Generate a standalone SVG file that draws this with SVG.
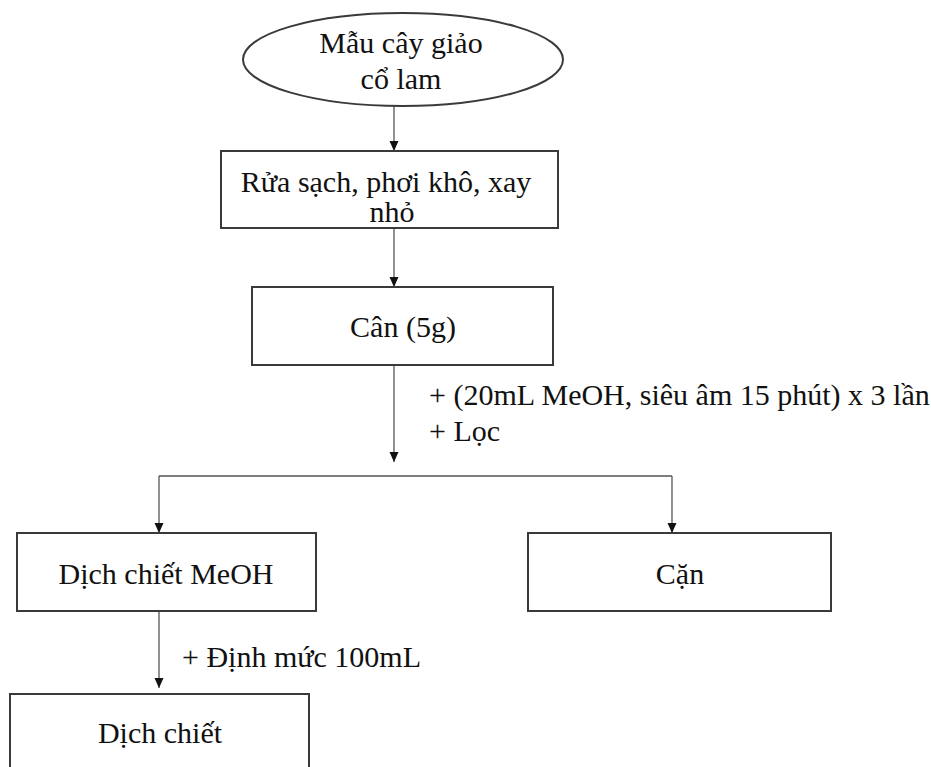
<svg xmlns="http://www.w3.org/2000/svg" width="931" height="767" viewBox="0 0 931 767">
<style>
.box{fill:#fff;stroke:#3a3a3a;stroke-width:2}
.t{font-family:"Liberation Serif","Times New Roman",serif;font-size:30px;fill:#111}
.c{text-anchor:middle}
.ln{fill:none;stroke:#555;stroke-width:1.3}
</style>
<defs>
<marker id="ah" markerUnits="userSpaceOnUse" markerWidth="10" markerHeight="10" refX="10" refY="4.5" orient="auto">
<path d="M0,0 L10,4.5 L0,9 z" fill="#111"/>
</marker>
</defs>
<rect width="931" height="767" fill="#fff"/>
<g id="connectors">
<path class="ln" d="M394,106 V151" marker-end="url(#ah)"/>
<path class="ln" d="M394,228 V287" marker-end="url(#ah)"/>
<path class="ln" d="M394,366 V462" marker-end="url(#ah)"/>
<path class="ln" d="M159,476 H672"/>
<path class="ln" d="M159,476 V533" marker-end="url(#ah)"/>
<path class="ln" d="M672,476 V533" marker-end="url(#ah)"/>
<path class="ln" d="M159,612 V688" marker-end="url(#ah)"/>
<text class="t" x="429" y="405">+ (20mL MeOH, siêu âm 15 phút) x 3 lần</text>
<text class="t" x="429" y="441">+ Lọc</text>
<text class="t" x="182" y="667">+ Định mức 100mL</text>
</g>
<g id="n_mau">
<ellipse class="box" cx="403" cy="59.5" rx="160" ry="46.5"/>
<text class="t c" x="401" y="53">Mẫu cây giảo</text>
<text class="t c" x="401" y="89">cổ lam</text>
</g>
<g id="n_rua">
<rect class="box" x="221" y="151" width="337" height="77"/>
<text class="t c" x="386" y="192">Rửa sạch, phơi khô, xay</text>
<text class="t c" x="392" y="222">nhỏ</text>
</g>
<g id="n_can">
<rect class="box" x="252" y="287" width="301" height="78"/>
<text class="t c" x="403" y="337">Cân (5g)</text>
</g>
<g id="n_dichmeoh">
<rect class="box" x="17" y="533" width="299" height="78"/>
<text class="t c" x="166" y="584">Dịch chiết MeOH</text>
</g>
<g id="n_can2">
<rect class="box" x="528" y="533" width="303" height="78"/>
<text class="t c" x="680" y="584">Cặn</text>
</g>
<g id="n_dich">
<rect class="box" x="10" y="694" width="299" height="100"/>
<text class="t c" x="160" y="743">Dịch chiết</text>
</g>
</svg>
